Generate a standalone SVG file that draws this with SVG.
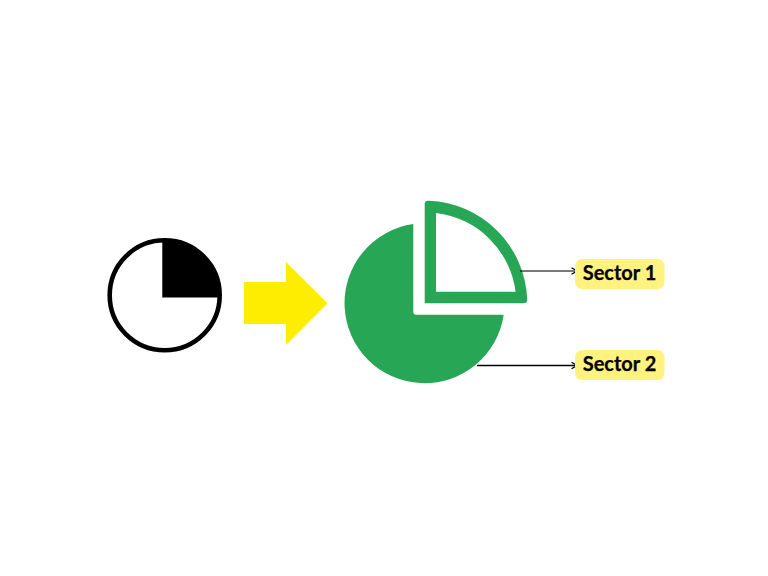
<svg xmlns="http://www.w3.org/2000/svg" width="768" height="576" viewBox="0 0 768 576">
<style>
.lbl{fill:#fff27f}
.t{font-family:"Lato","Liberation Sans",sans-serif;font-weight:700;font-size:20px;fill:#000;text-anchor:middle;stroke:#000;stroke-width:.25}
.c{fill:none;stroke:#000;stroke-width:1.4}
.g{fill:#27a655}
</style>
<defs>
<marker id="a" viewBox="0 0 8 8" refX="7" refY="4" markerUnits="userSpaceOnUse" markerWidth="8" markerHeight="8" orient="auto"><path d="M1.5 .8L7 4L1.5 7.2" fill="none" stroke="#000" stroke-width="1.3"/></marker>
</defs>
<rect width="768" height="576" fill="#fff"/>
<g id="small-pie">
<circle cx="164.7" cy="295.3" r="55" fill="#fff" stroke="#000" stroke-width="4.6"/>
<path d="M162.3 241.5H164.7A53.8 53.8 0 0 1 219.5 297.6H162.3Z" fill="#000"/>
</g>
<g id="big-arrow"><path d="M244 282H286V262L327.5 303.3L286 345V324H244Z" fill="#ffed00"/></g>
<g id="sector-2"><path class="g" d="M413.3 224A80 80 0 1 0 503.7 314.7H416.3Q413.3 314.7 413.3 311.7Z"/></g>
<g id="sector-1"><path class="g" fill-rule="evenodd" d="M424.7 303.3V204Q424.7 200.3 429 200.8A102.6 102.6 0 0 1 527.2 299Q527.6 303.3 523.5 303.3ZM436 291.7H515.6A91 91 0 0 0 436 213Z"/></g>
<g id="connectors">
<path class="c" d="M520 271H577" stroke-opacity=".7" marker-end="url(#a)"/>
<path class="c" d="M477 365.5H577" marker-end="url(#a)"/>
</g>
<g id="label-1"><rect class="lbl" x="575" y="259" width="89.5" height="30" rx="7"/><text class="t" x="619.5" y="279.5">Sector 1</text></g>
<g id="label-2"><rect class="lbl" x="575" y="350" width="89.5" height="30" rx="7"/><text class="t" x="619.5" y="370.5">Sector 2</text></g>
</svg>
